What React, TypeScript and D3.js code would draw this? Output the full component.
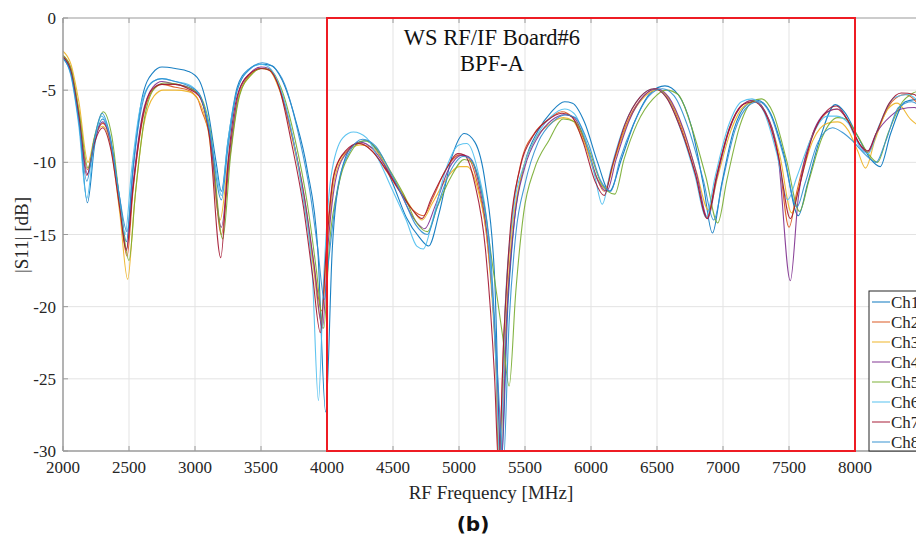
import React from "react";
import * as d3 from "d3";

type P = [number, number];

const CHANNELS = ["Ch1", "Ch2", "Ch3", "Ch4", "Ch5", "Ch6", "Ch7", "Ch8"];
const COLORS = ["#0072BD", "#D95319", "#EDB120", "#7E2F8E", "#77AC30", "#4DBEEE", "#A2142F", "#2F8FD0"];
const X_TICKS = [2000, 2500, 3000, 3500, 4000, 4500, 5000, 5500, 6000, 6500, 7000, 7500, 8000];
const Y_TICKS = [0, -5, -10, -15, -20, -25, -30];
const BOX = { f0: 4000, f1: 8000 };
const TITLE = ["WS RF/IF Board#6", "BPF-A"];

const CH1: P[] = [[2000,-2.8],[2060,-3.8],[2120,-7],[2185,-12.8],[2240,-8.8],[2300,-7.0],[2360,-8.5],[2430,-12.5],[2480,-15.5],[2530,-10.5],[2600,-5.5],[2680,-3.8],[2750,-3.4],[2850,-3.5],[2950,-3.7],[3030,-4.3],[3100,-6.5],[3160,-10],[3200,-12],[3250,-8.5],[3320,-4.8],[3400,-3.6],[3500,-3.2],[3580,-3.3],[3660,-4.3],[3760,-7],[3850,-10.5],[3930,-16],[3990,-27.3],[4040,-16],[4100,-11],[4200,-8.8],[4300,-8.5],[4400,-9.5],[4500,-11.5],[4600,-13.8],[4700,-15.2],[4770,-15.8],[4850,-13.5],[4950,-9.5],[5040,-8.0],[5120,-8.6],[5200,-11.5],[5270,-18],[5320,-31],[5370,-20],[5420,-14],[5500,-10],[5600,-7.8],[5700,-6.5],[5800,-5.8],[5860,-5.9],[5950,-7.2],[6050,-10],[6140,-12],[6230,-9.8],[6330,-7.2],[6450,-5.2],[6560,-4.7],[6660,-5.3],[6760,-7.5],[6850,-11.5],[6920,-14.9],[6990,-11.5],[7080,-7.8],[7180,-6],[7260,-5.7],[7360,-6.6],[7460,-9.4],[7570,-13.7],[7640,-11.5],[7740,-8.2],[7850,-6],[7920,-6.5],[8020,-8.2],[8120,-9.8],[8190,-10.3],[8270,-8],[8380,-5.8],[8500,-5.6]];
const CH2: P[] = [[2000,-2.6],[2060,-3.5],[2120,-6.5],[2185,-10.5],[2240,-8.3],[2300,-7.3],[2360,-8.5],[2430,-13],[2485,-16.5],[2530,-12],[2600,-7.2],[2680,-5],[2750,-4.6],[2850,-4.8],[2950,-5],[3020,-5.6],[3050,-6.4],[3120,-8.5],[3200,-15],[3260,-10],[3330,-5.5],[3420,-3.9],[3500,-3.5],[3560,-3.6],[3640,-4.9],[3740,-8.3],[3830,-12.5],[3900,-17],[3960,-20.3],[4000,-15],[4060,-10.5],[4150,-9.2],[4250,-8.7],[4350,-9.3],[4450,-10.6],[4550,-12],[4650,-13.3],[4730,-13.7],[4800,-12.5],[4900,-10.5],[5000,-9.5],[5060,-9.6],[5140,-11.5],[5220,-16],[5280,-24],[5300,-31],[5340,-22],[5400,-14],[5470,-10],[5570,-8],[5680,-7],[5780,-6.5],[5860,-6.9],[5950,-8.5],[6040,-11],[6100,-12],[6170,-10],[6270,-7.3],[6380,-5.6],[6490,-4.9],[6580,-5.5],[6680,-7.5],[6790,-10.8],[6880,-13.8],[6950,-11],[7050,-7.6],[7150,-6],[7230,-5.7],[7320,-6.5],[7420,-9.5],[7500,-14.5],[7560,-12],[7660,-8.5],[7780,-6.6],[7860,-6.3],[7940,-7],[8040,-8.8],[8100,-9.3],[8170,-7.8],[8280,-5.8],[8380,-5.3],[8500,-6.2]];
const CH3: P[] = [[2000,-2.3],[2060,-3.2],[2120,-5.8],[2190,-10],[2240,-8.2],[2300,-7.5],[2360,-8.8],[2430,-13.5],[2490,-18.1],[2540,-13],[2610,-7.5],[2690,-5.4],[2760,-5],[2850,-5],[2950,-5.1],[3020,-5.6],[3100,-7.8],[3190,-14],[3250,-10],[3330,-5.5],[3420,-4],[3500,-3.5],[3560,-3.6],[3640,-5],[3740,-8.5],[3830,-12.8],[3900,-17.5],[3955,-21],[4000,-16],[4060,-11],[4150,-9.3],[4250,-8.8],[4350,-9],[4450,-10.3],[4550,-11.8],[4650,-13.3],[4720,-14],[4800,-12.8],[4900,-11.2],[5000,-10.3],[5060,-10.3],[5140,-11.8],[5220,-16],[5280,-24],[5310,-31],[5350,-22],[5400,-15],[5470,-11],[5570,-8.5],[5680,-7.4],[5790,-6.9],[5860,-7.1],[5950,-8.7],[6040,-11],[6110,-11.8],[6180,-9.8],[6280,-7.2],[6390,-5.6],[6500,-5],[6590,-5.6],[6700,-7.8],[6800,-10.7],[6890,-13.3],[6960,-11],[7060,-7.8],[7160,-6.1],[7240,-5.8],[7330,-6.7],[7430,-9.5],[7520,-13.5],[7580,-11.5],[7680,-8.5],[7790,-7.3],[7870,-7.2],[7950,-7.8],[8020,-9.2],[8080,-10.4],[8150,-8.5],[8250,-6.3],[8320,-5.9],[8420,-7],[8500,-7.6]];
const CH4: P[] = [[2000,-2.7],[2060,-3.7],[2120,-6.8],[2185,-10.8],[2240,-8.5],[2300,-7.2],[2360,-8.6],[2430,-12.8],[2480,-16],[2530,-11.5],[2600,-6.8],[2680,-4.8],[2750,-4.4],[2850,-4.6],[2950,-4.8],[3030,-5.3],[3110,-8],[3200,-14.5],[3260,-9.5],[3330,-5.2],[3420,-3.8],[3500,-3.4],[3560,-3.5],[3640,-4.8],[3740,-8.3],[3830,-12.5],[3900,-17],[3965,-21.5],[4010,-15.5],[4070,-11],[4160,-9.2],[4250,-8.6],[4350,-9.1],[4450,-10.4],[4550,-12],[4650,-13.8],[4740,-14.6],[4820,-13],[4920,-10.5],[5020,-9.5],[5070,-9.6],[5150,-11.5],[5230,-16.5],[5290,-25],[5320,-31],[5360,-21],[5420,-14],[5500,-10.3],[5600,-8.2],[5700,-7.1],[5800,-6.7],[5870,-6.9],[5960,-8.6],[6050,-11.2],[6120,-12],[6190,-9.8],[6290,-7.1],[6400,-5.4],[6500,-4.9],[6590,-5.5],[6700,-7.7],[6800,-10.8],[6885,-13.9],[6950,-11.2],[7050,-7.7],[7150,-6],[7230,-5.7],[7320,-6.5],[7420,-9.8],[7510,-18.2],[7570,-12.5],[7670,-8.3],[7790,-6.5],[7870,-6.3],[7950,-7.2],[8030,-8.7],[8090,-9.3],[8160,-8],[8270,-6.8],[8350,-6.3],[8450,-6.2],[8500,-6.5]];
const CH5: P[] = [[2000,-2.6],[2060,-3.5],[2120,-6.4],[2190,-10.4],[2245,-8],[2305,-6.5],[2370,-8.2],[2440,-13.5],[2500,-16.8],[2550,-12],[2620,-6.8],[2700,-4.8],[2770,-4.5],[2870,-4.6],[2970,-4.9],[3040,-5.4],[3120,-8],[3210,-15.3],[3270,-9.5],[3340,-5.3],[3430,-3.9],[3510,-3.5],[3570,-3.6],[3650,-4.8],[3760,-8.5],[3850,-12.8],[3920,-17.5],[3975,-21.5],[4020,-15.5],[4090,-11.5],[4180,-9.3],[4280,-8.5],[4380,-9.1],[4480,-10.6],[4580,-12.2],[4680,-14.2],[4760,-14.8],[4840,-13],[4940,-11],[5040,-9.8],[5100,-10],[5180,-12.5],[5260,-17.5],[5330,-22],[5380,-25.5],[5430,-19],[5490,-13.5],[5570,-10.5],[5680,-8.5],[5790,-7],[5880,-7.2],[5980,-9],[6080,-11.5],[6180,-12.2],[6250,-9.8],[6350,-7.3],[6470,-5.6],[6570,-5],[6660,-5.3],[6760,-7.5],[6870,-11],[6960,-14.2],[7030,-11.2],[7130,-7.4],[7220,-5.8],[7290,-5.6],[7380,-6.6],[7480,-9.8],[7580,-13.4],[7650,-11.3],[7750,-8.3],[7870,-6.9],[7930,-7],[8010,-8],[8100,-9.4],[8170,-10],[8250,-8],[8360,-5.8],[8440,-5.2],[8500,-5]];
const CH6: P[] = [[2000,-2.7],[2060,-4],[2120,-7.5],[2180,-12.5],[2235,-8.8],[2290,-6.8],[2350,-8],[2420,-12],[2470,-15],[2520,-10.5],[2590,-6],[2670,-4.5],[2750,-4.2],[2850,-4.4],[2950,-4.6],[3030,-5.3],[3100,-7.2],[3160,-10.5],[3200,-12.3],[3250,-8.5],[3320,-5],[3420,-3.5],[3500,-3.2],[3560,-3.4],[3640,-4.7],[3740,-8.2],[3820,-12.5],[3890,-18],[3935,-26.5],[3975,-18],[4030,-11],[4120,-8.3],[4200,-7.9],[4300,-8.3],[4400,-10],[4500,-12],[4600,-14],[4680,-15.8],[4730,-16],[4800,-14],[4900,-10.5],[5000,-8.8],[5060,-8.7],[5140,-10.5],[5220,-15],[5280,-24],[5310,-31],[5350,-20],[5410,-13.5],[5500,-10],[5600,-8],[5700,-6.8],[5800,-6.3],[5870,-6.6],[5960,-8.5],[6030,-11],[6085,-12.9],[6150,-10.5],[6250,-7.5],[6380,-5.4],[6480,-4.9],[6580,-5.6],[6690,-8],[6790,-11],[6870,-13.8],[6940,-11],[7040,-7.5],[7140,-5.8],[7220,-5.6],[7310,-6.5],[7410,-9.5],[7490,-12.6],[7560,-11],[7660,-8.5],[7790,-6.8],[7860,-6.8],[7950,-7.3],[8040,-9],[8100,-9.4],[8180,-7.5],[8300,-5.5],[8400,-5.3],[8500,-6]];
const CH7: P[] = [[2000,-2.7],[2060,-3.7],[2120,-6.8],[2180,-10.9],[2240,-8.6],[2300,-7.6],[2360,-9],[2430,-13.2],[2480,-16.1],[2530,-11.8],[2600,-7],[2680,-4.9],[2750,-4.6],[2850,-4.6],[2950,-4.9],[3030,-5.4],[3110,-8.3],[3195,-16.6],[3250,-10],[3320,-5.4],[3410,-3.9],[3500,-3.5],[3560,-3.6],[3640,-4.9],[3730,-8.6],[3820,-13],[3890,-17.8],[3950,-21.8],[3995,-16],[4050,-11],[4140,-9.2],[4240,-8.7],[4340,-9.2],[4440,-10.4],[4540,-11.8],[4640,-13.2],[4720,-13.9],[4790,-12.5],[4890,-10.7],[4990,-9.4],[5040,-9.5],[5120,-11.5],[5200,-16],[5270,-25],[5300,-31],[5340,-22],[5390,-14.5],[5460,-10.5],[5560,-8.2],[5670,-7.1],[5780,-6.6],[5850,-6.8],[5940,-8.6],[6030,-11.3],[6100,-12.3],[6160,-10.3],[6260,-7.3],[6370,-5.5],[6480,-4.9],[6570,-5.5],[6680,-7.7],[6790,-10.8],[6880,-13.9],[6950,-11],[7050,-7.6],[7150,-6],[7230,-5.8],[7320,-6.6],[7420,-9.6],[7510,-13.9],[7570,-12],[7670,-8.4],[7790,-6.4],[7860,-6.1],[7940,-7],[8040,-8.8],[8100,-9.2],[8160,-8],[8260,-5.9],[8350,-5.2],[8450,-5.3],[8500,-6]];
const CH8: P[] = [[2000,-2.8],[2060,-3.9],[2120,-7.2],[2180,-11.3],[2235,-8.5],[2295,-6.6],[2355,-8.1],[2430,-12.5],[2485,-14.8],[2530,-10.5],[2600,-6],[2680,-4.4],[2750,-4.2],[2850,-4.4],[2950,-4.7],[3030,-5.2],[3110,-7.8],[3200,-12.6],[3250,-9],[3320,-5],[3420,-3.5],[3510,-3.1],[3580,-3.3],[3680,-4.6],[3790,-8.3],[3870,-12],[3930,-16],[3980,-19.5],[4010,-17],[4080,-11.8],[4170,-9.3],[4270,-8.4],[4370,-8.9],[4470,-10.5],[4570,-12.3],[4670,-14.3],[4760,-15],[4830,-13.2],[4930,-10.7],[5030,-9.6],[5080,-9.7],[5160,-11.6],[5240,-16.5],[5300,-26],[5335,-31],[5380,-21],[5430,-15],[5500,-11.5],[5600,-8.6],[5710,-7.2],[5810,-6.7],[5880,-6.9],[5980,-8.7],[6070,-11.2],[6150,-12],[6220,-9.8],[6320,-7.4],[6440,-5.4],[6540,-4.9],[6630,-5.4],[6740,-7.7],[6850,-11.2],[6930,-14],[7000,-11.2],[7090,-7.8],[7190,-6.1],[7270,-5.8],[7360,-6.7],[7460,-9.6],[7560,-13.1],[7620,-11.5],[7720,-8.6],[7830,-7.6],[7900,-7.9],[7980,-8.5],[8070,-9.4],[8160,-10],[8230,-8.6],[8330,-6.2],[8430,-5.8],[8500,-6.2]];

const SERIES = [CH1, CH2, CH3, CH4, CH5, CH6, CH7, CH8];

const W = 916, H = 538;
const L = 63, T = 18, B = 451, R = 921;

export default function App() {
  const x = d3.scaleLinear().domain([2000, 8500]).range([L, R]);
  const y = d3.scaleLinear().domain([-30, 0]).range([B, T]);
  const line = d3.line<P>().x(d => x(d[0])).y(d => y(d[1])).curve(d3.curveMonotoneX);
  const serif = "'Liberation Serif', 'Times New Roman', serif";
  const axisCol = "#9a9a9a";
  const textCol = "#262626";
  const legTop = 291, legStep = 20, legX = 869;

  return (
    <svg width={W} height={H} style={{ position: "absolute", left: 0, top: 0, background: "#fff" }}>
      <defs>
        <clipPath id="plot">
          <rect x={L} y={T} width={R - L} height={B - T} />
        </clipPath>
      </defs>
      <rect x={0} y={0} width={W} height={H} fill="#fff" />
      {X_TICKS.slice(1).map(t => (
        <line key={"gx" + t} x1={x(t)} x2={x(t)} y1={T} y2={B} stroke="#e3e3e3" strokeWidth={1} />
      ))}
      {Y_TICKS.slice(1, -1).map(t => (
        <line key={"gy" + t} x1={L} x2={R} y1={y(t)} y2={y(t)} stroke="#e3e3e3" strokeWidth={1} />
      ))}
      <g clipPath="url(#plot)">
        {SERIES.map((s, i) => (
          <path key={CHANNELS[i]} d={line(s) || ""} fill="none" stroke={COLORS[i]} strokeWidth={1.1} strokeOpacity={0.9} />
        ))}
      </g>
      <line x1={L} x2={R} y1={B} y2={B} stroke={axisCol} strokeWidth={1.5} />
      <line x1={L} x2={R} y1={T} y2={T} stroke={axisCol} strokeWidth={1.2} />
      <line x1={L} x2={L} y1={T} y2={B} stroke={axisCol} strokeWidth={1.5} />
      {X_TICKS.map(t => (
        <g key={"tx" + t}>
          <line x1={x(t)} x2={x(t)} y1={B} y2={B - 5} stroke={axisCol} />
          <line x1={x(t)} x2={x(t)} y1={T} y2={T + 5} stroke={axisCol} />
          <text x={x(t)} y={B + 22} textAnchor="middle" fontFamily={serif} fontSize={17} fill={textCol}>{t}</text>
        </g>
      ))}
      {Y_TICKS.map(t => (
        <g key={"ty" + t}>
          <line x1={L} x2={L + 5} y1={y(t)} y2={y(t)} stroke={axisCol} />
          <text x={56} y={y(t) + 6} textAnchor="end" fontFamily={serif} fontSize={17} fill={textCol}>{t}</text>
        </g>
      ))}
      <rect x={x(BOX.f0)} y={T} width={x(BOX.f1) - x(BOX.f0)} height={B - T} fill="none" stroke="#ee1c24" strokeWidth={2} />
      <text x={492} y={45} textAnchor="middle" fontFamily={serif} fontSize={22.5} fill="#111">{TITLE[0]}</text>
      <text x={492} y={71} textAnchor="middle" fontFamily={serif} fontSize={22.5} fill="#111">{TITLE[1]}</text>
      <text x={491} y={499} textAnchor="middle" fontFamily={serif} fontSize={19} fill={textCol}>RF Frequency [MHz]</text>
      <text transform="translate(28,235) rotate(-90)" textAnchor="middle" fontFamily={serif} fontSize={19} fill={textCol}>|S11| [dB]</text>
      <rect x={legX} y={legTop} width={80} height={B - legTop} fill="#fff" stroke="#262626" strokeWidth={1} />
      {CHANNELS.map((c, i) => {
        const cy = legTop + 11 + i * legStep;
        return (
          <g key={"lg" + c}>
            <line x1={legX + 3} x2={legX + 21} y1={cy} y2={cy} stroke={COLORS[i]} strokeWidth={1.2} strokeOpacity={0.8} />
            <text x={legX + 22} y={cy + 6} fontFamily={serif} fontSize={17} fill={textCol}>{c}</text>
          </g>
        );
      })}
      <text x={473} y={531} textAnchor="middle" fontFamily="'DejaVu Sans', sans-serif" fontWeight="bold" fontSize={20} fill="#111">(b)</text>
    </svg>
  );
}
